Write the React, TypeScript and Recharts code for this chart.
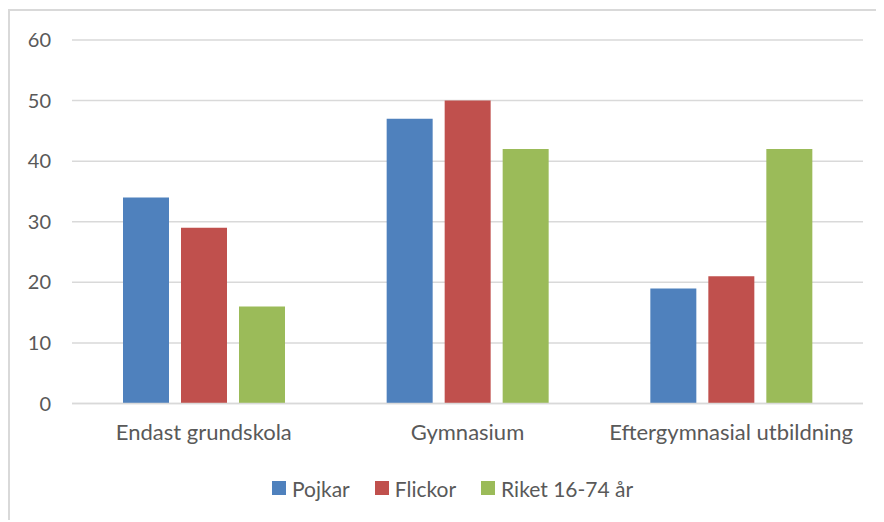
import React from 'react';
import { BarChart, Bar, XAxis, YAxis, CartesianGrid, Legend } from 'recharts';

const categories = ['Endast grundskola', 'Gymnasium', 'Eftergymnasial utbildning'];
const pojkar = [34, 47, 19];
const flickor = [29, 50, 21];
const riket = [16, 42, 42];
const yTicks = [0, 10, 20, 30, 40, 50, 60];

const seriesNames = ['Pojkar', 'Flickor', 'Riket 16-74 år'];
const seriesColors = ['#4F81BD', '#C0504D', '#9BBB59'];

const data = categories.map((c, i) => ({
  name: c,
  pojkar: pojkar[i],
  flickor: flickor[i],
  riket: riket[i],
}));

const FONT = 'Lato, "Noto Sans", sans-serif';
const TEXT = '#595959';

const renderLegend = () => (
  <div
    style={{
      display: 'flex',
      alignItems: 'center',
      height: 28,
      paddingLeft: 262,
      fontFamily: FONT,
      fontSize: 21,
      color: TEXT,
    }}
  >
    {seriesNames.map((n, i) => (
      <div key={n} style={{ display: 'flex', alignItems: 'center', marginRight: 25 }}>
        <span
          style={{
            display: 'inline-block',
            width: 14,
            height: 14,
            background: seriesColors[i],
            marginRight: 6,
          }}
        />
        <span>{n}</span>
      </div>
    ))}
  </div>
);

export default function App() {
  return (
    <div
      style={{
        width: 870,
        height: 509,
        borderTop: '2px solid #d9d9d9',
        borderLeft: '2px solid #d9d9d9',
        marginTop: 1,
        background: '#fff',
      }}
    >
      <BarChart
        width={870}
        height={509}
        data={data}
        margin={{ top: 29, right: 17, left: 0, bottom: 0 }}
        barSize={46}
        barGap={12}
      >
        <CartesianGrid vertical={false} stroke="#d9d9d9" strokeWidth={1.5} />
        <XAxis
          dataKey="name"
          height={70.5}
          axisLine={{ stroke: '#d9d9d9', strokeWidth: 1.5 }}
          tickLine={false}
          tickSize={0}
          tickMargin={21}
          tick={{ fill: TEXT, fontSize: 22, fontFamily: FONT }}
          interval={0}
        />
        <YAxis
          width={62}
          domain={[0, 60]}
          ticks={yTicks}
          axisLine={false}
          tickLine={false}
          tickSize={0}
          tickMargin={21}
          tick={{ fill: TEXT, fontSize: 20, fontFamily: FONT }}
        />
        <Legend verticalAlign="bottom" height={46} content={renderLegend} />
        <Bar dataKey="pojkar" name={seriesNames[0]} fill={seriesColors[0]} isAnimationActive={false} />
        <Bar dataKey="flickor" name={seriesNames[1]} fill={seriesColors[1]} isAnimationActive={false} />
        <Bar dataKey="riket" name={seriesNames[2]} fill={seriesColors[2]} isAnimationActive={false} />
      </BarChart>
    </div>
  );
}
